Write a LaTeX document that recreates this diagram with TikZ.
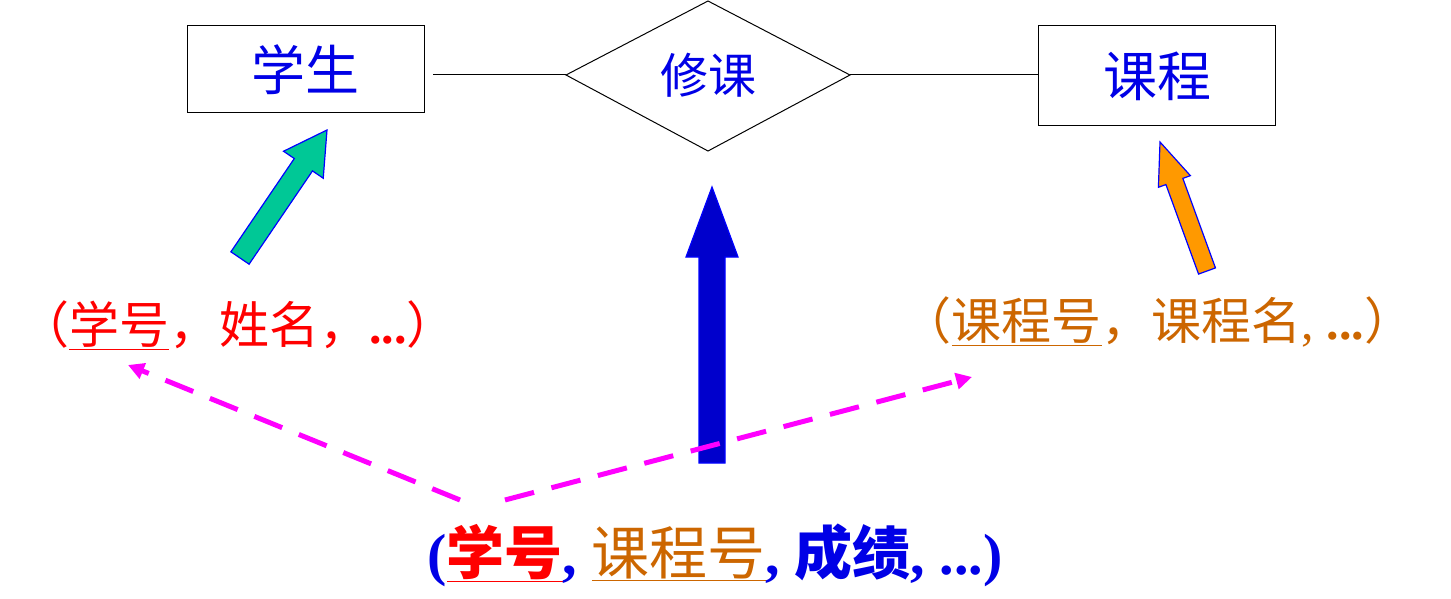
\documentclass[tikz,border=0pt]{standalone}
\usepackage{fontspec}
\setmainfont{Liberation Serif}
\newfontfamily\cjk{Noto Sans CJK SC}
\usetikzlibrary{calc,arrows.meta}
\definecolor{myblue}{RGB}{0,0,230}
\definecolor{myred}{RGB}{255,0,0}
\definecolor{myorange}{RGB}{204,102,0}
\definecolor{mygreen}{RGB}{0,200,150}
\definecolor{arrorange}{RGB}{255,153,0}
\definecolor{arrblue}{RGB}{0,0,204}
\definecolor{mymag}{RGB}{255,0,255}
\newcommand{\fatarr}[6]{%
 \draw[fill=#6,draw=blue,line width=1.2pt] let \p1=($(#2)-(#1)$), \n1={atan2(\y1,\x1)}, \n2={veclen(\x1,\y1)} in
 [shift={(#1)},rotate=\n1] (0pt,-#3pt) -- (\n2-#5pt,-#3pt) -- (\n2-#5pt,-#4pt) -- (\n2,0pt) -- (\n2-#5pt,#4pt) -- (\n2-#5pt,#3pt) -- (0pt,#3pt) -- cycle;}
\tikzset{ent/.style={draw,line width=1pt,minimum width=237pt,text=myblue,font=\cjk\fontsize{54}{58}\selectfont},
 magdash/.style={mymag,line width=5pt,dash pattern=on 30pt off 18pt,-{Triangle[length=16pt,width=16pt]}}}
\begin{document}
\begin{tikzpicture}[x=1pt,y=-1pt]
\useasboundingbox (0,0) rectangle (1451,599);
\node[ent,minimum height=87pt] (s) at (305.5,69.5) {学生};
\node[ent,minimum height=100pt] (c) at (1157,76) {课程};
\coordinate (dl) at (566,75); \coordinate (dt) at (708,1); \coordinate (dr) at (850,75); \coordinate (db) at (708,151);
\draw[line width=1pt] (dl)--(dt)--(dr)--(db)--cycle;
\node[text=myblue,font=\cjk\fontsize{48}{52}\selectfont] (r) at (708,75) {修课};
\coordinate (sl) at (433,75);
\draw[line width=1pt] (sl)--(dl);
\draw[line width=1pt] (dr)--(c.west|-dr);
\coordinate (g1) at (240,258); \coordinate (g2) at (327,130);
\fatarr{g1}{g2}{11}{24}{42}{mygreen}
\coordinate (b1) at (712,463); \coordinate (b2) at (712,187);
\fatarr{b1}{b2}{13}{26}{70}{arrblue}
\coordinate (o1) at (1207,271); \coordinate (o2) at (1160,142);
\fatarr{o1}{o2}{9}{17}{42}{arrorange}
\node[text=myred,font=\fontsize{50}{54}\selectfont] (lt) at (238,325) {\cjk（\underline{学号}，姓名，\rmfamily\bfseries ...\cjk\mdseries）};
\node[text=myorange,font=\fontsize{50}{54}\selectfont] (rt) at (1158,322) {\cjk（\underline{课程号}，课程名\rmfamily, \bfseries ...\cjk\mdseries）};
\node[text=myblue,font=\bfseries\fontsize{58}{62}\selectfont] (bt) at (715,555) {(\textcolor{myred}{\cjk\underline{学号}}, \textcolor{myorange}{\cjk\mdseries\underline{课程号}}, {\cjk 成绩}, ...)};
\coordinate (m1) at (460,500); \coordinate (m2) at (128,365);
\coordinate (m3) at (505,500); \coordinate (m4) at (972,377);
\draw[magdash] (m1)--(m2);
\draw[magdash] (m3)--(m4);
\end{tikzpicture}
\end{document}
